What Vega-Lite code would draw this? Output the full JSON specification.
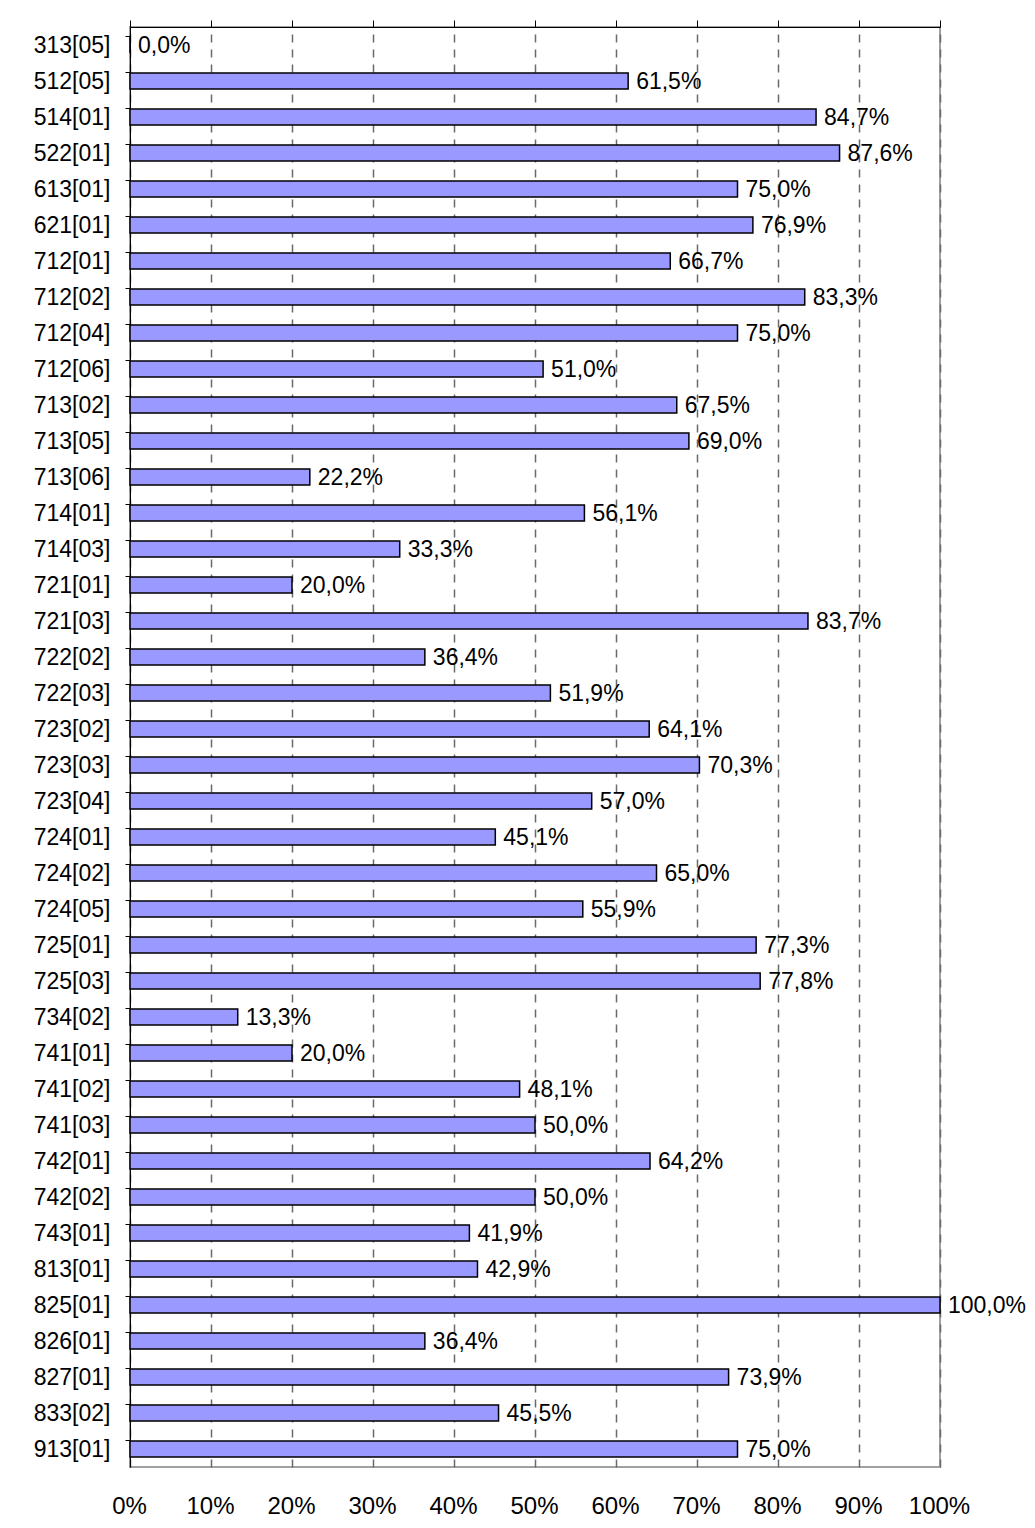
{
  "$schema": "https://vega.github.io/schema/vega-lite/v6.json",
  "width": 810,
  "height": 1440,
  "autosize": {"type": "none"},
  "padding": {"left": 130, "top": 27, "right": 95, "bottom": 61},
  "background": "white",
  "config": {
    "locale": {"number": {"decimal": ",", "thousands": ".", "grouping": [3], "currency": ["", " €"]}},
    "view": {"stroke": "#a0a0a0", "strokeWidth": 2},
    "font": "Liberation Sans"
  },
  "data": {
    "values": [
      {"code": "313[05]", "pct": 0.0},
      {"code": "512[05]", "pct": 0.615},
      {"code": "514[01]", "pct": 0.847},
      {"code": "522[01]", "pct": 0.876},
      {"code": "613[01]", "pct": 0.75},
      {"code": "621[01]", "pct": 0.769},
      {"code": "712[01]", "pct": 0.667},
      {"code": "712[02]", "pct": 0.833},
      {"code": "712[04]", "pct": 0.75},
      {"code": "712[06]", "pct": 0.51},
      {"code": "713[02]", "pct": 0.675},
      {"code": "713[05]", "pct": 0.69},
      {"code": "713[06]", "pct": 0.222},
      {"code": "714[01]", "pct": 0.561},
      {"code": "714[03]", "pct": 0.333},
      {"code": "721[01]", "pct": 0.2},
      {"code": "721[03]", "pct": 0.837},
      {"code": "722[02]", "pct": 0.364},
      {"code": "722[03]", "pct": 0.519},
      {"code": "723[02]", "pct": 0.641},
      {"code": "723[03]", "pct": 0.703},
      {"code": "723[04]", "pct": 0.57},
      {"code": "724[01]", "pct": 0.451},
      {"code": "724[02]", "pct": 0.65},
      {"code": "724[05]", "pct": 0.559},
      {"code": "725[01]", "pct": 0.773},
      {"code": "725[03]", "pct": 0.778},
      {"code": "734[02]", "pct": 0.133},
      {"code": "741[01]", "pct": 0.2},
      {"code": "741[02]", "pct": 0.481},
      {"code": "741[03]", "pct": 0.5},
      {"code": "742[01]", "pct": 0.642},
      {"code": "742[02]", "pct": 0.5},
      {"code": "743[01]", "pct": 0.419},
      {"code": "813[01]", "pct": 0.429},
      {"code": "825[01]", "pct": 1.0},
      {"code": "826[01]", "pct": 0.364},
      {"code": "827[01]", "pct": 0.739},
      {"code": "833[02]", "pct": 0.455},
      {"code": "913[01]", "pct": 0.75}
    ]
  },
  "encoding": {
    "y": {
      "field": "code",
      "type": "nominal",
      "sort": null,
      "scale": {"paddingInner": 0.55, "paddingOuter": 0.275},
      "axis": {
        "title": null,
        "domainColor": "black",
        "domainWidth": 1,
        "tickColor": "black",
        "tickSize": 5,
        "bandPosition": 0,
        "labelFontSize": 23,
        "labelColor": "black",
        "labelPadding": 15,
        "labelOffset": 1,
        "grid": false
      }
    }
  },
  "layer": [
    {
      "mark": {"type": "bar", "fill": "#9999ff", "stroke": "black", "strokeWidth": 1.5},
      "encoding": {
        "x": {
          "field": "pct",
          "type": "quantitative",
          "scale": {"domain": [0, 1], "nice": false, "zero": true},
          "axis": {
            "orient": "bottom",
            "title": null,
            "values": [0, 0.1, 0.2, 0.3, 0.4, 0.5, 0.6, 0.7, 0.8, 0.9, 1],
            "format": ".0%",
            "domain": false,
            "ticks": false,
            "grid": true,
            "gridColor": "#6a6a6a",
            "gridDash": [8, 7],
            "gridWidth": 1.5,
            "labelFontSize": 24,
            "labelColor": "black",
            "labelPadding": 27,
            "labelOffset": -1,
            "labelFlush": false
          }
        }
      }
    },
    {
      "mark": {"type": "text", "align": "left", "baseline": "middle", "dx": 8, "dy": 1, "fontSize": 23, "color": "black"},
      "encoding": {
        "x": {
          "field": "pct",
          "type": "quantitative",
          "axis": {
            "orient": "top",
            "title": null,
            "values": [0, 0.1, 0.2, 0.3, 0.4, 0.5, 0.6, 0.7, 0.8, 0.9, 1],
            "labels": false,
            "domainColor": "black",
            "domainWidth": 1,
            "tickColor": "black",
            "tickSize": 7,
            "grid": false
          }
        },
        "text": {"field": "pct", "type": "quantitative", "format": ".1%"}
      }
    }
  ],
  "resolve": {"axis": {"x": "independent"}}
}
